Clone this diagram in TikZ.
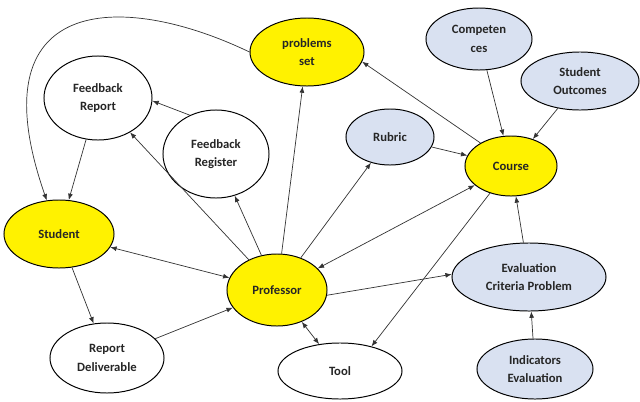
\documentclass[tikz,border=0pt]{standalone}
\usepackage{fontspec}
\setmainfont{Carlito}
\usepackage{tikz}
\usetikzlibrary{shapes.geometric, arrows.meta}
\definecolor{paleblue}{HTML}{D9E1F1}

\begin{document}
\begin{tikzpicture}[x=0.025cm, y=-0.025cm,
    concept/.style={ellipse, draw=black, line width=0.7pt, inner sep=0pt, align=center,
        font=\fontsize{9}{13}\selectfont\bfseries, text=black!85},
    keynode/.style={concept, fill=yellow},
    plainnode/.style={concept, fill=white},
    infonode/.style={concept, fill=paleblue},
    link/.style={-{Latex[length=4.5pt,width=3.5pt]}, draw=black!80, line width=0.5pt},
    twoway/.style={{Latex[length=4.5pt,width=3.5pt]}-{Latex[length=4.5pt,width=3.5pt]}, draw=black!80, line width=0.5pt}]

% Canvas
\fill[white] (0,0) rectangle (640,402);
\useasboundingbox (0,0) rectangle (640,402);

% Central actors
\node[keynode, minimum width=2.85cm, minimum height=1.70cm] (problems) at (307,52) {problems\\set};
\node[keynode, minimum width=2.30cm, minimum height=1.50cm] (course) at (511,166) {Course};
\node[keynode, minimum width=2.75cm, minimum height=1.70cm] (student) at (59,234) {Student};
\node[keynode, minimum width=2.50cm, minimum height=1.80cm] (professor) at (277,290) {Professor};

% Feedback and deliverables
\node[plainnode, minimum width=2.70cm, minimum height=2.10cm] (fbreport) at (98,98) {Feedback\\Report};
\node[plainnode, minimum width=2.65cm, minimum height=2.20cm] (fbregister) at (216,154) {Feedback\\Register};
\node[plainnode, minimum width=2.85cm, minimum height=1.75cm] (deliverable) at (107,358) {Report\\Deliverable};
\node[plainnode, minimum width=3.10cm, minimum height=1.40cm] (tool) at (340,371) {Tool};

% Course inputs
\node[infonode, minimum width=2.65cm, minimum height=1.55cm] (competences) at (479,39) {Competen\\ces};
\node[infonode, minimum width=2.95cm, minimum height=1.45cm] (outcomes) at (580,81) {Student\\Outcomes};
\node[infonode, minimum width=2.20cm, minimum height=1.40cm] (rubric) at (390,137) {Rubric};
\node[infonode, minimum width=3.85cm, minimum height=1.70cm] (criteria) at (529,277) {Evaluation\\Criteria Problem};
\node[infonode, minimum width=2.90cm, minimum height=1.50cm] (indicators) at (535,369) {Indicators\\Evaluation};

% Links
\draw[link] (problems.west) .. controls (120,-10) and (-25,-5) .. (student.110);
\draw[link] (fbreport) -- (student);
\draw[link] (fbregister.124) -- (fbreport.-3);
\draw[link] (professor) -- (fbreport);
\draw[link] (professor) -- (fbregister);
\draw[link] (professor) -- (problems);
\draw[link] (professor) -- (rubric);
\draw[twoway] (professor) -- (course);
\draw[link] (course.143) -- (problems.-10);
\draw[link] (rubric) -- (course);
\draw[link] (competences) -- (course);
\draw[link] (outcomes) -- (course);
\draw[twoway] (student) -- (professor);
\draw[link] (student) -- (deliverable);
\draw[link] (deliverable) -- (professor);
\draw[link] (professor.-6) -- (criteria.178);
\draw[twoway] (professor) -- (tool);
\draw[link] (course) -- (tool.38);
\draw[link] (criteria) -- (course);
\draw[link] (indicators) -- (criteria);
\end{tikzpicture}
\end{document}
